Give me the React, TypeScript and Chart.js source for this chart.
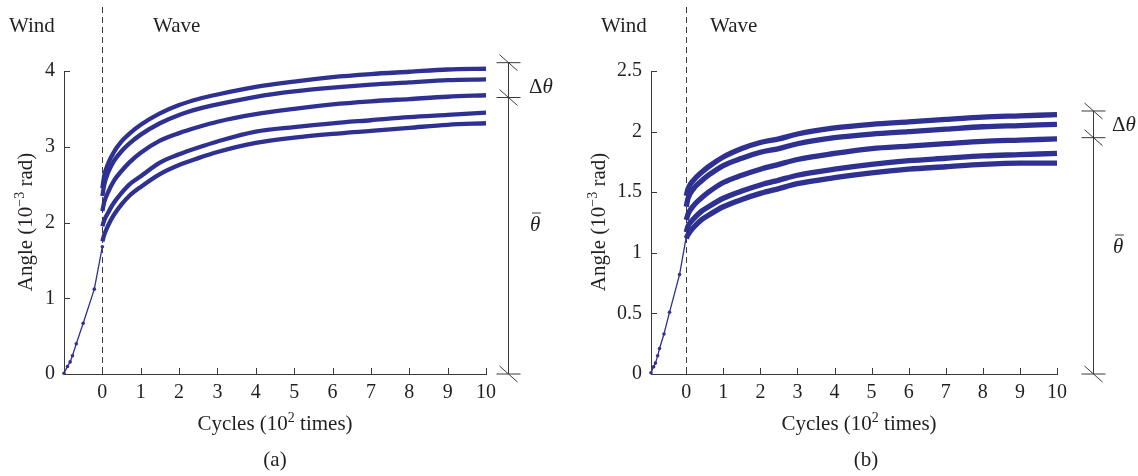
import React, { useEffect, useRef } from 'react';
import { Chart, registerables } from 'chart.js';

Chart.register(...registerables);

// ---------- data ----------
// Panel (a)
const windAX = [-1, -0.91, -0.84, -0.78, -0.68, -0.5, -0.21, 0];
const windAY = [0.01, 0.1, 0.16, 0.24, 0.4, 0.67, 1.12, 1.68];
const waveAX = [0, 0.05, 0.15, 0.3, 0.5, 0.7, 1, 1.5, 2, 2.5, 3, 4, 5, 6, 7, 8, 9, 10];
const waveA1 = [2.45, 2.62, 2.78, 2.93, 3.07, 3.17, 3.29, 3.44, 3.55, 3.63, 3.69, 3.79, 3.86, 3.92, 3.96, 3.99, 4.02, 4.03];
const waveA2 = [2.35, 2.5, 2.66, 2.81, 2.94, 3.04, 3.16, 3.31, 3.42, 3.5, 3.56, 3.66, 3.73, 3.78, 3.82, 3.85, 3.88, 3.89];
const waveA3 = [2.15, 2.27, 2.4, 2.55, 2.68, 2.79, 2.92, 3.08, 3.18, 3.26, 3.33, 3.43, 3.5, 3.56, 3.6, 3.63, 3.66, 3.68];
const waveA4 = [1.95, 2.03, 2.13, 2.26, 2.39, 2.5, 2.61, 2.79, 2.9, 2.99, 3.07, 3.2, 3.26, 3.31, 3.35, 3.39, 3.42, 3.45];
const waveA5 = [1.75, 1.84, 1.96, 2.1, 2.24, 2.35, 2.47, 2.64, 2.76, 2.85, 2.93, 3.05, 3.12, 3.17, 3.21, 3.25, 3.29, 3.31];
const yTicksA = [0, 1, 2, 3, 4];
const bracketA = [4.11, 3.65, 0];

// Panel (b)
const windBX = [-0.95, -0.88, -0.83, -0.77, -0.72, -0.6, -0.45, -0.18, 0];
const windBY = [0.01, 0.06, 0.09, 0.15, 0.21, 0.33, 0.51, 0.82, 1.13];
const waveBX = [0, 0.05, 0.2, 0.4, 0.6, 1, 1.5, 2, 2.5, 3, 4, 5, 6, 7, 8, 9, 10];
const waveB1 = [1.47, 1.53, 1.6, 1.66, 1.71, 1.79, 1.86, 1.91, 1.94, 1.98, 2.03, 2.06, 2.08, 2.1, 2.12, 2.13, 2.14];
const waveB2 = [1.38, 1.45, 1.53, 1.59, 1.64, 1.72, 1.78, 1.83, 1.86, 1.9, 1.95, 1.98, 2.0, 2.02, 2.04, 2.05, 2.06];
const waveB3 = [1.27, 1.32, 1.39, 1.45, 1.5, 1.58, 1.64, 1.69, 1.73, 1.77, 1.82, 1.86, 1.88, 1.9, 1.92, 1.93, 1.94];
const waveB4 = [1.17, 1.22, 1.28, 1.34, 1.38, 1.45, 1.51, 1.56, 1.6, 1.64, 1.69, 1.73, 1.76, 1.78, 1.8, 1.81, 1.82];
const waveB5 = [1.12, 1.15, 1.21, 1.27, 1.31, 1.38, 1.44, 1.49, 1.53, 1.57, 1.62, 1.66, 1.69, 1.71, 1.73, 1.74, 1.74];
const yTicksB = [0, 0.5, 1, 1.5, 2, 2.5];
const bracketB = [2.17, 1.95, 0];

const xTicks = [0, 1, 2, 3, 4, 5, 6, 7, 8, 9, 10];

// ---------- styles ----------
const FONT = '"Liberation Serif", "DejaVu Serif", serif';
const FS = 21; // labels / titles
const TFS = 20; // tick labels
const BLUE = '#2e3192';
const INK = '#231f20';
const AXIS = '#3a3a3a';

type Part = { t: string; sup?: boolean; it?: boolean };
const fontOf = (p: Part, size: number) =>
  `${p.it ? 'italic ' : ''}${p.sup ? Math.round(size * 0.66) : size}px ${FONT}`;

function richWidth(ctx: CanvasRenderingContext2D, parts: Part[], size: number) {
  let w = 0;
  for (const p of parts) {
    ctx.font = fontOf(p, size);
    w += ctx.measureText(p.t).width;
  }
  return w;
}
function drawRich(ctx: CanvasRenderingContext2D, parts: Part[], x: number, y: number, size: number) {
  let cx = x - richWidth(ctx, parts, size) / 2;
  for (const p of parts) {
    ctx.font = fontOf(p, size);
    ctx.fillText(p.t, cx, p.sup ? y - size * 0.4 : y);
    cx += ctx.measureText(p.t).width;
  }
}

const yTitle: Part[] = [{ t: 'Angle (10' }, { t: '\u22123', sup: true }, { t: ' rad)' }];
const xTitle: Part[] = [{ t: 'Cycles (10' }, { t: '2', sup: true }, { t: ' times)' }];

const panelA = {
  windX: windAX, windY: windAY, waveX: waveAX,
  waves: [waveA1, waveA2, waveA3, waveA4, waveA5],
  xMin: -1, yMax: 4, yTicks: yTicksA, bracket: bracketA,
  padding: { left: 24, right: 83, top: 71, bottom: 62 },
  waveWidth: 4.3,
  bracketDx: 22, labelDx: 43, deltaY: 93, barY: 231,
  wind: { x: 9, y: 32 }, wave: { x: 153, y: 32 },
  yTitlePos: { x: 32, y: 222 }, xTitlePos: { x: 275, y: 430 },
  caption: { t: '(a)', x: 275, y: 466 },
};
const panelB = {
  windX: windBX, windY: windBY, waveX: waveBX,
  waves: [waveB1, waveB2, waveB3, waveB4, waveB5],
  xMin: -0.95, yMax: 2.5, yTicks: yTicksB, bracket: bracketB,
  padding: { left: 42, right: 81, top: 71, bottom: 62 },
  waveWidth: 5.3,
  bracketDx: 36, labelDx: 55, deltaY: 131, barY: 253,
  wind: { x: 32, y: 32 }, wave: { x: 141, y: 32 },
  yTitlePos: { x: 36, y: 222 }, xTitlePos: { x: 290, y: 430 },
  caption: { t: '(b)', x: 297, y: 466 },
};
type Panel = typeof panelA;

function makeDecor(p: Panel) {
  return {
    id: 'decor',
    beforeDatasetsDraw(chart: any) {
      const { ctx, chartArea, scales } = chart;
      const x0 = Math.round(scales.x.getPixelForValue(0)) + 0.5;
      ctx.save();
      ctx.strokeStyle = AXIS;
      ctx.lineWidth = 1;
      ctx.setLineDash([6, 4]);
      ctx.beginPath();
      ctx.moveTo(x0, 7);
      ctx.lineTo(x0, chartArea.bottom);
      ctx.stroke();
      ctx.restore();
    },
    afterDraw(chart: any) {
      const { ctx, chartArea, scales } = chart;
      ctx.save();
      ctx.strokeStyle = AXIS;
      ctx.lineWidth = 1;
      // inward tick marks
      ctx.beginPath();
      for (const v of p.yTicks) {
        const y = Math.round(scales.y.getPixelForValue(v)) + 0.5;
        ctx.moveTo(chartArea.left, y);
        ctx.lineTo(chartArea.left + 6, y);
      }
      for (const v of xTicks) {
        const x = Math.round(scales.x.getPixelForValue(v)) + 0.5;
        ctx.moveTo(x, chartArea.bottom);
        ctx.lineTo(x, chartArea.bottom - 6);
      }
      ctx.stroke();

      // bracket (theta bar / delta theta)
      const bx = Math.round(chartArea.right + p.bracketDx) + 0.5;
      const ys = p.bracket.map((v) => scales.y.getPixelForValue(v));
      ctx.beginPath();
      ctx.moveTo(bx, ys[0]);
      ctx.lineTo(bx, ys[2]);
      for (const y of ys) {
        ctx.moveTo(bx - 12, y);
        ctx.lineTo(bx + 12, y);
        ctx.moveTo(bx - 9, y - 8);
        ctx.lineTo(bx + 9, y + 8);
      }
      ctx.stroke();

      // texts
      ctx.fillStyle = INK;
      ctx.textAlign = 'left';
      ctx.textBaseline = 'alphabetic';
      ctx.font = `${FS}px ${FONT}`;
      ctx.fillText('Wind', p.wind.x, p.wind.y);
      ctx.fillText('Wave', p.wave.x, p.wave.y);

      const lx = chartArea.right + p.labelDx;
      ctx.font = `${FS}px ${FONT}`;
      ctx.fillText('\u0394', lx, p.deltaY);
      const dw = ctx.measureText('\u0394').width;
      ctx.font = `italic ${FS}px ${FONT}`;
      ctx.fillText('\u03b8', lx + dw, p.deltaY);

      ctx.fillText('\u03b8', lx + 1, p.barY);
      const tw = ctx.measureText('\u03b8').width;
      ctx.beginPath();
      ctx.moveTo(lx + 3, p.barY - 18);
      ctx.lineTo(lx + tw + 1.5, p.barY - 18);
      ctx.stroke();

      drawRich(ctx, xTitle, p.xTitlePos.x, p.xTitlePos.y, FS);
      ctx.font = `${FS}px ${FONT}`;
      ctx.textAlign = 'center';
      ctx.fillText(p.caption.t, p.caption.x, p.caption.y);
      ctx.textAlign = 'left';

      ctx.save();
      ctx.translate(p.yTitlePos.x, p.yTitlePos.y);
      ctx.rotate(-Math.PI / 2);
      drawRich(ctx, yTitle, 0, 0, FS);
      ctx.restore();

      ctx.restore();
    },
  };
}

function makeConfig(p: Panel): any {
  const windData = p.windX.map((x, i) => ({ x, y: p.windY[i] }));
  const waveSets = p.waves.map((ys, k) => ({
    label: `Wave ${k + 1}`,
    data: p.waveX.map((x, i) => ({ x, y: ys[i] })),
    borderColor: BLUE,
    backgroundColor: BLUE,
    borderWidth: p.waveWidth,
    pointRadius: 0,
    cubicInterpolationMode: 'monotone',
    clip: false,
  }));
  return {
    type: 'line',
    data: {
      datasets: [
        {
          label: 'Wind',
          data: windData,
          borderColor: BLUE,
          backgroundColor: BLUE,
          borderWidth: 1.3,
          pointRadius: 1.8,
          pointBorderWidth: 0,
          tension: 0,
          clip: false,
        },
        ...waveSets,
      ],
    },
    options: {
      animation: false,
      responsive: false,
      layout: { padding: p.padding },
      plugins: { legend: { display: false }, tooltip: { enabled: false } },
      scales: {
        x: {
          type: 'linear',
          min: p.xMin,
          max: 10,
          afterBuildTicks: (s: any) => {
            s.ticks = xTicks.map((v) => ({ value: v }));
          },
          afterFit: (s: any) => {
            s.height = 40;
          },
          grid: { display: false, drawTicks: false },
          border: { display: true, color: AXIS, width: 1 },
          ticks: {
            autoSkip: false,
            maxRotation: 0,
            padding: 7,
            color: INK,
            font: { family: FONT, size: TFS },
            callback: (v: number) => String(v),
          },
        },
        y: {
          type: 'linear',
          min: 0,
          max: p.yMax,
          afterBuildTicks: (s: any) => {
            s.ticks = p.yTicks.map((v) => ({ value: v }));
          },
          afterFit: (s: any) => {
            s.width = 40;
          },
          grid: { display: false, drawTicks: false },
          border: { display: true, color: AXIS, width: 1 },
          ticks: {
            padding: 9,
            color: INK,
            font: { family: FONT, size: TFS },
            callback: (v: number) => String(v),
          },
        },
      },
    },
    plugins: [makeDecor(p)],
  };
}

export default function App() {
  const refA = useRef<HTMLCanvasElement>(null);
  const refB = useRef<HTMLCanvasElement>(null);
  useEffect(() => {
    const a = new Chart(refA.current as HTMLCanvasElement, makeConfig(panelA));
    const b = new Chart(refB.current as HTMLCanvasElement, makeConfig(panelB));
    return () => {
      a.destroy();
      b.destroy();
    };
  }, []);
  return (
    <div style={{ position: 'fixed', left: 0, top: 0, width: 1138, height: 476, background: '#fff' }}>
      <canvas ref={refA} width={569} height={476} style={{ position: 'absolute', left: 0, top: 0 }} />
      <canvas ref={refB} width={569} height={476} style={{ position: 'absolute', left: 569, top: 0 }} />
    </div>
  );
}
